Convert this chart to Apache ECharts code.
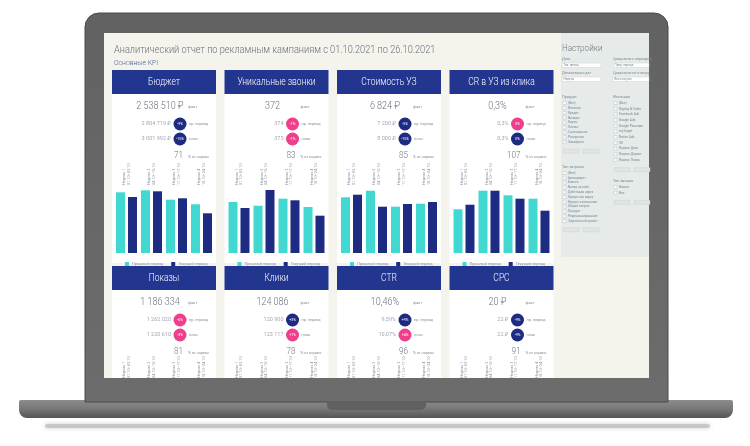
<!DOCTYPE html>
<html>
<head>
<meta charset="utf-8">
<script src="https://cdn.jsdelivr.net/npm/echarts@6/dist/echarts.min.js"></script>
<style>html,body{margin:0;padding:0;background:#fff}#c{width:750px;height:446px}</style>
</head>
<body>
<div id="c"></div>
<script>
// ---------- DATA ----------
const reportTitle = 'Аналитический отчет по рекламным кампаниям с 01.10.2021 по 26.10.2021';
const subTitle = 'Основные KPI';
const kpiNames = ['Бюджет', 'Уникальные звонки', 'Стоимость УЗ', 'CR в УЗ из клика', 'Показы', 'Клики', 'CTR', 'CPC'];
const factValues = ['2 538 510 ₽', '372', '6 824 ₽', '0,3%', '1 186 334', '124 086', '10,46%', '20 ₽'];
const prevValues = ['2 804 719 ₽', '374', '7 200 ₽', '0,3%', '1 262 020', '120 900', '9,59%', '22 ₽'];
const planValues = ['3 001 992 ₽', '375', '8 000 ₽', '0,3%', '1 220 610', '123 117', '10,07%', '22 ₽'];
const prevDelta = ['-9%', '-1%', '-5%', '0%', '-6%', '+3%', '+9%', '-9%'];
const planDelta = ['-15%', '-1%', '-15%', '0%', '-3%', '+1%', '+4%', '-9%'];
const prevBad = [false, true, false, true, true, false, false, false];
const planBad = [false, true, false, false, true, true, true, false];
const normValues = ['71', '83', '85', '107', '81', '78', '96', '91'];
const weekLabels = ['Неделя 1\n01.10–03.10', 'Неделя 2\n04.10–10.10', 'Неделя 3\n11.10–17.10', 'Неделя 4\n18.10–24.10'];
const seriesNames = ['Прошлый период', 'Текущий период'];
// bar values (relative) for the four upper cards
const budgetPrev = [60.7, 62.7, 53.3, 48.7];
const budgetCur  = [56.0, 61.7, 54.7, 39.7];
const callsPrev  = [51.0, 47.3, 54.3, 46.0];
const callsCur   = [45.0, 63.0, 52.7, 37.3];
const costPrev   = [55.7, 62.3, 46.3, 49.3];
const costCur    = [58.3, 46.3, 49.0, 51.0];
const crPrev     = [43.7, 62.3, 57.7, 54.3];
const crCur      = [48.3, 62.3, 54.3, 42.3];
const barData = [[budgetPrev, budgetCur], [callsPrev, callsCur], [costPrev, costCur], [crPrev, crCur]];
const filterBlocks = {
  product: ['(Все)', 'Ипотека', 'Кредит', 'Вклады', 'Карты', 'Лизинг', 'Страхование', 'Рассрочка', 'Эквайринг'],
  request: ['(Все)', 'Автокредит', 'Бизнес', 'Вклад на сайт', 'Дебетовая карта', 'Кредитная карта', 'Кредит наличными', 'Общий запрос', 'Продукт', 'Рефинансирование', 'Зарплатный проект'],
  source: ['(Все)', 'Display & Video', 'Facebook Ads', 'Google Ads', 'Google Реклама', 'myTarget', 'Native Ads', 'VK', 'Яндекс Дзен', 'Яндекс Директ', 'Яндекс Поиск'],
  callType: ['Новые', 'Все']
};

// ---------- STYLE ----------
const NAVY = '#22368f', BAR_NAVY = '#1d2b82', TEAL = '#40d8d0', PINK = '#ef3f8a';
const FONT = 'Roboto, "Noto Sans", sans-serif';
const cardLeft = [112, 224.5, 337, 449.5];
const cardW = 104;
const rowHeaderTop = [70, 266];

const chart = echarts.init(document.getElementById('c'), null, {renderer: 'canvas'});
const g = [];
function txt(x, y, text, size, fill, align, sx, weight) {
  const el = {type: 'text', x: x, y: y, z: 5, style: {text: text, fontSize: size, fontFamily: FONT, fill: fill,
    fontWeight: weight || 'normal',
    align: align || 'left', verticalAlign: 'middle', textAlign: align || 'left', textVerticalAlign: 'middle'}};
  if (sx) { el.scaleX = sx; }
  g.push(el);
  return el;
}
// laptop shadow + base
g.push({type: 'rect', z: 0, shape: {x: 45, y: 424, width: 665, height: 4, r: 2}, style: {fill: '#b5b5b5', opacity: 0.6, shadowBlur: 4, shadowColor: '#aaa'}});
g.push({type: 'rect', z: 0, shape: {x: 19, y: 400, width: 714, height: 18, r: [2, 2, 8, 8]},
  style: {fill: new echarts.graphic.LinearGradient(0, 0, 0, 1, [{offset: 0, color: '#8c8c8c'}, {offset: 0.45, color: '#7a7a7a'}, {offset: 1, color: '#555'}])}});
// lid
g.push({type: 'rect', z: 0, shape: {x: 85, y: 13, width: 583, height: 389, r: [14, 14, 0, 0]},
  style: {fill: new echarts.graphic.LinearGradient(0, 0, 0, 1, [{offset: 0, color: '#626262'}, {offset: 1, color: '#6c6c6c'}]), stroke: '#4a4a4a', lineWidth: 1}});
g.push({type: 'rect', z: 1, shape: {x: 327, y: 401, width: 99, height: 9, r: [0, 0, 5, 5]}, style: {fill: '#606060'}});
// screen
g.push({type: 'rect', z: 1, shape: {x: 104, y: 33, width: 545, height: 345}, style: {fill: '#f4f3ec'}});
// sidebar
g.push({type: 'rect', z: 1, shape: {x: 561, y: 33, width: 88, height: 224}, style: {fill: '#e6ebea'}});
txt(114, 50, reportTitle, 11.5, '#6b6f78', 'left', 0.8, 300);
txt(114, 63, subTitle, 8, '#4a5f9a', 'left', 0.85, 300);

// cards
for (let i = 0; i < 8; i++) {
  const row = i < 4 ? 0 : 1, L = cardLeft[i % 4], T = rowHeaderTop[row];
  const bottom = row === 0 ? 263 : 378;
  g.push({type: 'rect', z: 2, shape: {x: L, y: T, width: cardW, height: bottom - T}, style: {fill: '#ffffff'}});
  g.push({type: 'rect', z: 3, shape: {x: L, y: T, width: cardW, height: 24}, style: {fill: NAVY}});
  const h = txt(0, T + 12, kpiNames[i], 10, '#ffffff', 'center', 0.85, 300);
  h.x = L + cardW / 2;
  txt(L + 48, T + 36, factValues[i], 10, '#6a7185', 'center', 0.9, 300);
  txt(L + 76, T + 37, 'факт', 4, '#8a8f99', 'left');
  const lines = [[prevValues[i], prevDelta[i], prevBad[i], 'пр. период', T + 54], [planValues[i], planDelta[i], planBad[i], 'план', T + 69]];
  lines.forEach(function (ln) {
    txt(L + 59, ln[4], ln[0], 5.5, '#a3a8b2', 'right');
    g.push({type: 'circle', z: 4, shape: {cx: L + 68, cy: ln[4], r: 6.5}, style: {fill: ln[2] ? PINK : BAR_NAVY}});
    txt(L + 68, ln[4], ln[1], 3.6, '#ffffff', 'center');
    txt(L + 77, ln[4], ln[3], 3.8, '#8a8f99', 'left');
  });
  txt(L + 71, T + 86, normValues[i], 9, '#6a7185', 'right', 0.9, 300);
  txt(L + 76, T + 87, '% от нормы', 3.8, '#8a8f99', 'left');
}

// sidebar texts
const SB = '#7c8894';
txt(562, 49, 'Настройки', 9, '#6f7a86', 'left', 0.9, 300);
txt(562, 59, 'Дата', 3.6, SB); txt(613, 59, 'Сравнение с периодом', 3.6, SB);
txt(562, 73, 'Детализация дат', 3.6, SB); txt(613, 73, 'Сравнение по статусу', 3.6, SB);
[[562, 63], [562, 77], [613, 63], [613, 77]].forEach(function (p, k) {
  g.push({type: 'rect', z: 4, shape: {x: p[0], y: p[1], width: k < 2 ? 39 : 36, height: 4.5}, style: {fill: '#ffffff', stroke: '#c9d0d3', lineWidth: 0.5}});
  txt(p[0] + 1.5, p[1] + 2.3, ['Тек. месяц', 'Неделя', 'Пред. период', 'Все статусы'][k], 3, SB);
});
function checklist(x, y0, title, items, step) {
  txt(x, y0, title, 3.8, SB);
  items.forEach(function (it, k) {
    const y = y0 + 6 + k * step;
    g.push({type: 'rect', z: 4, shape: {x: x + 1, y: y - 1.5, width: 3, height: 3}, style: {fill: '#ffffff', stroke: '#aab4ba', lineWidth: 0.4}});
    txt(x + 6, y, it, 3.2, SB);
  });
  const by = y0 + 6 + items.length * step + 2;
  g.push({type: 'rect', z: 4, shape: {x: x + 1, y: by, width: 16, height: 4}, style: {fill: '#dfe4e4', stroke: '#c8cfd1', lineWidth: 0.4}});
  g.push({type: 'rect', z: 4, shape: {x: x + 21, y: by, width: 16, height: 4}, style: {fill: '#dfe4e4', stroke: '#c8cfd1', lineWidth: 0.4}});
}
checklist(562, 97, 'Продукт', filterBlocks.product, 4.9);
checklist(562, 167, 'Тип запроса', filterBlocks.request, 4.8);
checklist(613, 97, 'Источник', filterBlocks.source, 5.7);
checklist(613, 181, 'Тип звонка', filterBlocks.callType, 5.7);

// grids / axes / series
const grids = [], xAxes = [], yAxes = [], series = [], legends = [];
for (let i = 0; i < 8; i++) {
  const row = i < 4 ? 0 : 1, L = cardLeft[i % 4];
  grids.push({left: L + 2, width: cardW - 4, top: row === 0 ? 188 : 381, height: 65, containLabel: false, z: 10});
  xAxes.push({type: 'category', gridIndex: i, position: 'top', data: weekLabels, z: 12,
    axisLine: {show: false}, axisTick: {show: false},
    axisLabel: {rotate: 90, fontSize: 3.8, lineHeight: 4.4, color: '#8f949c', margin: 3, fontFamily: FONT}});
  yAxes.push({type: 'value', gridIndex: i, min: 0, max: 65, show: false, splitLine: {show: false}});
  if (row === 0) {
    [0, 1].forEach(function (s) {
      series.push({type: 'bar', name: seriesNames[s], xAxisIndex: i, yAxisIndex: i, data: barData[i][s],
        barWidth: 9, barGap: '33%', itemStyle: {color: s === 0 ? TEAL : BAR_NAVY}, z: 12, silent: true});
    });
    legends.push({left: L + 8, top: 257, itemWidth: 4, itemHeight: 4, itemGap: 8, icon: 'rect', data: seriesNames,
      textStyle: {fontSize: 3.8, color: '#8a8f99', fontFamily: FONT, padding: [0, 0, 0, -2]}, z: 12, selectedMode: false});
  }
}

chart.setOption({
  animation: false,
  backgroundColor: '#ffffff',
  graphic: {elements: g},
  grid: grids, xAxis: xAxes, yAxis: yAxes, series: series, legend: legends
});
</script>
</body>
</html>
